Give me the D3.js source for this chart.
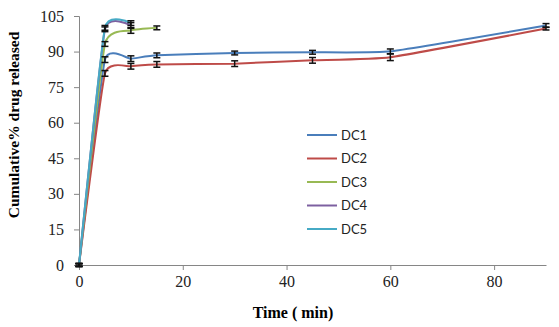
<!DOCTYPE html>
<html>
<head>
<meta charset="utf-8">
<script src="https://cdn.jsdelivr.net/npm/d3@7"></script>
<style>
  body { margin: 0; background: #fff; }
  svg { display: block; }
</style>
</head>
<body>
<div id="chart"></div>
<script>
// release profile, % cumulative drug released vs time (min)
const timeLong = [0, 5, 10, 15, 30, 45, 60, 90];
const timeDC3 = [0, 5, 10, 15];
const timeShort = [0, 5, 10];

const dc1 = [0, 86.6, 87.0, 88.4, 89.4, 89.7, 90.1, 101.0];
const dc2 = [0, 80.8, 83.8, 84.6, 84.9, 86.3, 87.6, 99.7];
const dc3 = [0, 93.2, 98.9, 100.0];
const dc4 = [0, 99.4, 101.0];
const dc5 = [0, 100.0, 102.0];

const dc1Err = [0.6, 1.2, 1.2, 1.0, 0.8, 0.8, 1.0, 0.8];
const dc2Err = [0.6, 1.2, 1.2, 1.2, 1.2, 1.2, 1.4, 0.6];
const dc3Err = [0.6, 1.0, 1.2, 0.8];
const dc4Err = [0.6, 1.0, 1.2];
const dc5Err = [0.6, 1.0, 1.0];

const seriesNames = ["DC1", "DC2", "DC3", "DC4", "DC5"];
const seriesColors = ["#4a7ebb", "#be4b48", "#98b954", "#7d60a0", "#46aac5"];
const xTicks = [0, 20, 40, 60, 80];
const yTicks = [0, 15, 30, 45, 60, 75, 90, 105];

const series = [
  {name: "DC1", t: timeLong, v: dc1, e: dc1Err},
  {name: "DC2", t: timeLong, v: dc2, e: dc2Err},
  {name: "DC3", t: timeDC3, v: dc3, e: dc3Err},
  {name: "DC4", t: timeShort, v: dc4, e: dc4Err},
  {name: "DC5", t: timeShort, v: dc5, e: dc5Err}
];

const W = 559, H = 327;
const margin = {top: 16, right: 13, bottom: 62, left: 79};
const width = W - margin.left - margin.right,
      height = H - margin.top - margin.bottom;

const svg = d3.select("#chart").append("svg")
    .attr("width", W)
    .attr("height", H);

const g = svg.append("g")
    .attr("transform", "translate(" + margin.left + "," + margin.top + ")");

const x = d3.scaleLinear().domain([0, 90]).range([0, width]);
const y = d3.scaleLinear().domain([0, 105]).range([height, 0]);
const color = d3.scaleOrdinal().domain(seriesNames).range(seriesColors);

const axisColor = "#868686";
const serif = "Liberation Serif, Times New Roman, serif";

// axes
const xAxis = g.append("g")
    .attr("transform", "translate(0," + height + ")")
    .call(d3.axisBottom(x).tickValues(xTicks).tickSize(5).tickPadding(6).tickSizeOuter(0));
const yAxis = g.append("g")
    .call(d3.axisLeft(y).tickValues(yTicks).tickSize(5).tickPadding(10).tickSizeOuter(5));

[xAxis, yAxis].forEach(a => {
  a.attr("font-family", serif).attr("font-size", 16);
  a.select(".domain").attr("stroke", axisColor);
  a.selectAll(".tick line").attr("stroke", axisColor);
  a.selectAll(".tick text").attr("fill", "#222");
});

// smoothed lines
const line = d3.line()
    .x(d => x(d[0]))
    .y(d => y(d[1]))
    .curve(d3.curveCardinal.tension(0.6));

series.forEach(s => {
  const pts = s.t.map((t, i) => [t, s.v[i]]);
  g.append("path")
      .datum(pts)
      .attr("fill", "none")
      .attr("stroke", color(s.name))
      .attr("stroke-width", 2)
      .attr("d", line);
});

// error bars
series.forEach(s => {
  s.t.forEach((t, i) => {
    const cx = x(t), y0 = y(s.v[i] - s.e[i]), y1 = y(s.v[i] + s.e[i]);
    const eb = g.append("g").attr("stroke", "#111").attr("stroke-width", 1.5);
    eb.append("line").attr("x1", cx).attr("x2", cx).attr("y1", y0).attr("y2", y1);
    eb.append("line").attr("x1", cx - 3.5).attr("x2", cx + 3.5).attr("y1", y0).attr("y2", y0);
    eb.append("line").attr("x1", cx - 3.5).attr("x2", cx + 3.5).attr("y1", y1).attr("y2", y1);
  });
});

// legend
const legend = svg.append("g").attr("transform", "translate(307,135)");
seriesNames.forEach((n, i) => {
  const row = legend.append("g").attr("transform", "translate(0," + (i * 23.5) + ")");
  row.append("line")
      .attr("x1", 0).attr("x2", 30)
      .attr("stroke", color(n)).attr("stroke-width", 2);
  row.append("text")
      .attr("x", 34).attr("y", 0).attr("dy", "0.35em")
      .attr("fill", "#222")
      .style("font-family", "Lato, 'Open Sans', sans-serif")
      .style("font-size", "13px")
      .text(n);
});

// axis titles
svg.append("text")
    .attr("x", 293).attr("y", 318)
    .attr("text-anchor", "middle")
    .style("font-family", serif)
    .style("font-weight", "bold")
    .style("font-size", "16px")
    .text("Time ( min)");

svg.append("text")
    .attr("transform", "translate(19,125) rotate(-90)")
    .attr("text-anchor", "middle")
    .style("font-family", serif)
    .style("font-weight", "bold")
    .style("font-size", "15.5px")
    .text("Cumulative% drug released");
</script>
</body>
</html>
